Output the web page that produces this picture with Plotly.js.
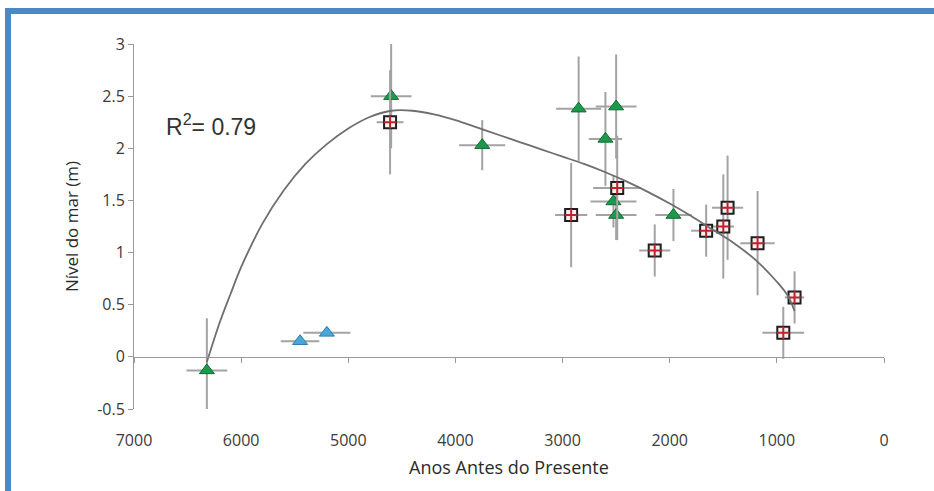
<!DOCTYPE html>
<html>
<head>
<meta charset="utf-8">
<script src="https://cdn.plot.ly/plotly-3.0.1.min.js"></script>
<style>
  html, body { margin: 0; padding: 0; background: #ffffff; }
  #wrap { position: relative; width: 934px; height: 491px; overflow: hidden; }
  #chart { position: absolute; left: 0; top: 0; width: 934px; height: 491px; }
  #frame {
    position: absolute; left: 5px; top: 8px; right: -10px; bottom: -10px;
    border-top: 6px solid #4a89c8; border-left: 6px solid #4a89c8;
    pointer-events: none;
  }
</style>
</head>
<body>
<div id="wrap">
  <div id="chart"></div>
  <div id="frame"></div>
</div>
<script>
// Sea-level indicators: age (years before present) vs. level (m), with age / level uncertainties

// Green triangles
const greenAge      = [6320, 4600, 3750, 2850, 2500, 2600, 2525, 2500, 1965];
const greenLevel    = [-0.13, 2.50, 2.03, 2.38, 2.40, 2.09, 1.49, 1.36, 1.36];
const greenAgeErr   = [190, 190, 215, 210, 190, 155, 215, 190, 170];
const greenLevelErr = [0.50, 0.50, 0.24, 0.50, 0.50, 0.45, 0.25, 0.24, 0.25];

// Blue triangles (no level uncertainty)
const blueAge    = [5450, 5200];
const blueLevel  = [0.15, 0.23];
const blueAgeErr = [180, 220];

// Squares
const squareAge      = [4610, 2920, 2490, 2140, 1660, 1500, 1460, 1180, 835, 940];
const squareLevel    = [2.25, 1.36, 1.62, 1.02, 1.21, 1.25, 1.43, 1.09, 0.57, 0.23];
const squareAgeErr   = [125, 150, 225, 145, 140, 100, 145, 160, 90, 195];
const squareLevelErr = [0.50, 0.50, 0.50, 0.25, 0.25, 0.50, 0.50, 0.50, 0.25, 0.25];

// Polynomial trend curve (R² = 0.79), sampled along its length
const trendAge   = [6320, 6200, 6100, 6000, 5800, 5600, 5400, 5200, 5000, 4800, 4600, 4400,
                    4200, 4000, 3800, 3600, 3400, 3200, 3000, 2800, 2600, 2400, 2200, 2000,
                    1800, 1600, 1400, 1200, 1000, 900, 835];
const trendLevel = [-0.05, 0.33, 0.60, 0.86, 1.28, 1.60, 1.85, 2.04, 2.19, 2.30, 2.36, 2.36,
                    2.325, 2.27, 2.20, 2.13, 2.06, 1.99, 1.92, 1.85, 1.77, 1.68, 1.58, 1.47,
                    1.35, 1.22, 1.09, 0.93, 0.72, 0.59, 0.44];

const xTicks = [7000, 6000, 5000, 4000, 3000, 2000, 1000, 0];
const yTicks = [-0.5, 0, 0.5, 1, 1.5, 2, 2.5, 3];
const r2Text = 'R<sup>2</sup>= 0.79';

const errColor = '#a3a3a3';
const yMin = -0.5, yMax = 3;

function errBar(arr) { return {type: 'data', array: arr, visible: true, color: errColor, thickness: 2, width: 0}; }

const traces = [
  {
    x: trendAge, y: trendLevel, xaxis: 'x2', yaxis: 'y',
    mode: 'lines', line: {color: '#6e6e6e', width: 1.8, shape: 'spline', smoothing: 1},
    hoverinfo: 'skip', showlegend: false
  },
  {
    x: blueAge, y: blueLevel, mode: 'markers',
    error_x: errBar(blueAgeErr),
    marker: {symbol: 'triangle-up', size: 13, color: '#4aa8d6', line: {color: '#2a7cb0', width: 1}},
    showlegend: false
  },
  {
    x: greenAge, y: greenLevel, mode: 'markers',
    error_x: errBar(greenAgeErr), error_y: errBar(greenLevelErr),
    marker: {symbol: 'triangle-up', size: 13, color: '#1c9a4c', line: {color: '#0f6a33', width: 1}},
    showlegend: false
  },
  {
    x: squareAge, y: squareLevel, mode: 'markers',
    error_x: errBar(squareAgeErr), error_y: errBar(squareLevelErr),
    marker: {symbol: 'square', size: 12, color: '#fbeeee', line: {color: '#1e1e1e', width: 2}},
    showlegend: false
  },
  {
    x: squareAge, y: squareLevel, mode: 'markers',
    marker: {symbol: 'cross-thin', size: 9, color: '#c0222c', line: {color: '#c0222c', width: 2}},
    hoverinfo: 'skip', showlegend: false
  }
];

const tickFont = {family: '"Open Sans", "DejaVu Sans", sans-serif', size: 16, color: '#3a3a3a'};
const xTitleFont = {family: '"Open Sans", "DejaVu Sans", sans-serif', size: 18, color: '#2a2a2a'};
const yTitleFont = {family: '"Open Sans", "DejaVu Sans", sans-serif', size: 17, color: '#2a2a2a'};

const layout = {
  width: 934, height: 491,
  margin: {l: 134, r: 50, t: 44, b: 82, pad: 0},
  paper_bgcolor: '#ffffff', plot_bgcolor: '#ffffff',
  showlegend: false,
  xaxis: {
    range: [7000, 0], tickmode: 'array', tickvals: xTicks, ticktext: xTicks.map(String),
    showline: false, zeroline: false, showgrid: false,
    ticks: 'outside', ticklen: 17, tickcolor: 'rgba(0,0,0,0)',
    tickfont: tickFont,
    title: {text: 'Anos Antes do Presente', font: xTitleFont, standoff: 11}
  },
  // axis line drawn through level 0, carrying the small tick marks
  xaxis2: {
    range: [7000, 0], overlaying: 'x', anchor: 'free',
    position: (0 - yMin) / (yMax - yMin),
    tickmode: 'array', tickvals: xTicks, showticklabels: false,
    showline: true, linecolor: '#9a9a9a', linewidth: 1.5,
    ticks: 'outside', ticklen: 5, tickcolor: '#9a9a9a', tickwidth: 1,
    showgrid: false, zeroline: false
  },
  yaxis: {
    range: [yMin, yMax], tickmode: 'array', tickvals: yTicks, ticktext: yTicks.map(String),
    showline: true, linecolor: '#9a9a9a', linewidth: 1,
    ticks: 'outside', ticklen: 5, tickcolor: '#9a9a9a',
    showgrid: false, zeroline: false,
    tickfont: tickFont,
    title: {text: 'Nível do mar (m)', font: yTitleFont, standoff: 14}
  },
  annotations: [{
    x: 6720, y: 2.22, xref: 'x', yref: 'y', xanchor: 'left', yanchor: 'middle',
    text: r2Text, showarrow: false,
    font: {family: '"Liberation Sans", Arial, sans-serif', size: 23, color: '#333333'}
  }]
};

Plotly.newPlot('chart', traces, layout, {displayModeBar: false, staticPlot: true});
</script>
</body>
</html>
